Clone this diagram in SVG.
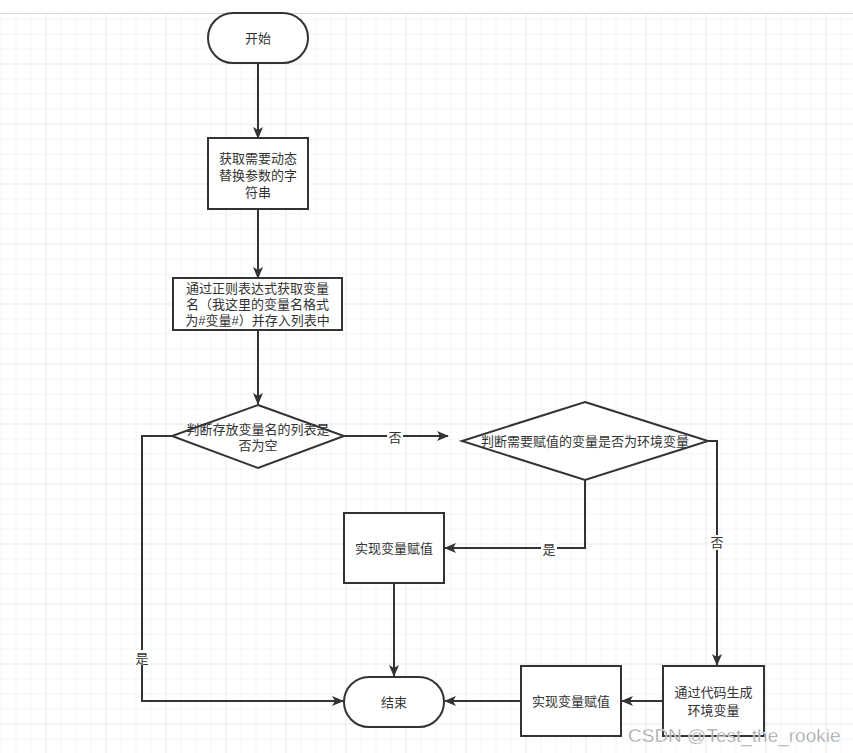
<svg xmlns="http://www.w3.org/2000/svg" width="853" height="753" viewBox="0 0 853 753">
<defs>
<pattern id="minor" patternUnits="userSpaceOnUse" x="0.5" y="3.5" width="15" height="15">
<path d="M0 0H15M0 0V15" fill="none" stroke="#ececec" stroke-width="1"/>
</pattern>
<pattern id="major" patternUnits="userSpaceOnUse" x="45.5" y="3.5" width="60" height="60">
<path d="M0 0H60M0 0V60" fill="none" stroke="#e2e2e2" stroke-width="1"/>
</pattern>
<marker id="arr" markerUnits="userSpaceOnUse" markerWidth="12" markerHeight="10" refX="11" refY="5" orient="auto">
<path d="M0 0L12 5L0 10L3 5Z" fill="#333"/>
</marker>
<style>
.n{fill:#fff;stroke:#333;stroke-width:2}
.c{fill:none;stroke:#333;stroke-width:2}
.t{font-family:"Liberation Sans","Noto Sans CJK SC",sans-serif;font-size:13px;fill:#333;text-anchor:middle;dominant-baseline:central}
.lb{fill:#fff}
.wm{font-family:"Liberation Sans","Noto Sans CJK SC",sans-serif;font-size:19px;fill:#9a9a9a;stroke:#fff;stroke-width:0.4;text-anchor:start}
</style>
</defs>
<rect x="0" y="0" width="853" height="753" fill="#fff"/>
<rect x="0" y="13" width="853" height="740" fill="url(#minor)"/>
<rect x="0" y="13" width="853" height="740" fill="url(#major)"/>
<line x1="0" y1="13.5" x2="853" y2="13.5" stroke="#d6d6d6" stroke-width="1"/>

<g id="connectors">
<path class="c" d="M258 63V138" marker-end="url(#arr)"/>
<path class="c" d="M258 209V278" marker-end="url(#arr)"/>
<path class="c" d="M258 330V404" marker-end="url(#arr)"/>
<path class="c" d="M344 436H448" marker-end="url(#arr)"/>
<path class="c" d="M585 480V548H445" marker-end="url(#arr)"/>
<path class="c" d="M708 441H717V665" marker-end="url(#arr)"/>
<path class="c" d="M663 701H622" marker-end="url(#arr)"/>
<path class="c" d="M520 701H445" marker-end="url(#arr)"/>
<path class="c" d="M394 583V676" marker-end="url(#arr)"/>
<path class="c" d="M172 436H142V701H343" marker-end="url(#arr)"/>
<rect class="lb" x="387" y="429" width="16" height="15"/>
<text class="t" x="395" y="437">否</text>
<rect class="lb" x="541" y="541" width="16" height="15"/>
<text class="t" x="549" y="549">是</text>
<rect class="lb" x="709" y="535" width="16" height="15"/>
<text class="t" x="717" y="542">否</text>
<rect class="lb" x="134" y="650" width="16" height="15"/>
<text class="t" x="142" y="658">是</text>
</g>

<g id="start">
<rect class="n" x="208" y="13" width="100" height="50" rx="25" ry="25"/>
<text class="t" x="258" y="38">开始</text>
</g>
<g id="getString">
<rect class="n" x="208" y="138" width="100" height="71"/>
<text class="t" x="258" y="158">获取需要动态</text>
<text class="t" x="258" y="175">替换参数的字</text>
<text class="t" x="258" y="192">符串</text>
</g>
<g id="regex">
<rect class="n" x="173" y="278" width="169" height="52"/>
<text class="t" x="257.500" y="288">通过正则表达式获取变量</text>
<text class="t" x="257.500" y="304">名（我这里的变量名格式</text>
<text class="t" x="257.500" y="320">为#变量#）并存入列表中</text>
</g>
<g id="isEmpty">
<path class="n" d="M258 405L344 436L258 468L172 436Z"/>
<text class="t" x="258" y="429">判断存放变量名的列表是</text>
<text class="t" x="258" y="445">否为空</text>
</g>
<g id="isEnv">
<path class="n" d="M585 402L708 441L585 480L462 441Z"/>
<text class="t" x="585" y="441">判断需要赋值的变量是否为环境变量</text>
</g>
<g id="assign1">
<rect class="n" x="344" y="513" width="100" height="70"/>
<text class="t" x="394" y="548">实现变量赋值</text>
</g>
<g id="genEnv">
<rect class="n" x="663" y="666" width="101" height="70"/>
<text class="t" x="713.500" y="692">通过代码生成</text>
<text class="t" x="713.500" y="710">环境变量</text>
</g>
<g id="assign2">
<rect class="n" x="521" y="666" width="100" height="70"/>
<text class="t" x="571" y="701">实现变量赋值</text>
</g>
<g id="end">
<rect class="n" x="344" y="677" width="100" height="50" rx="25" ry="25"/>
<text class="t" x="394" y="702">结束</text>
</g>
<text class="wm" x="628" y="742">CSDN @Test_the_rookie</text>
</svg>
